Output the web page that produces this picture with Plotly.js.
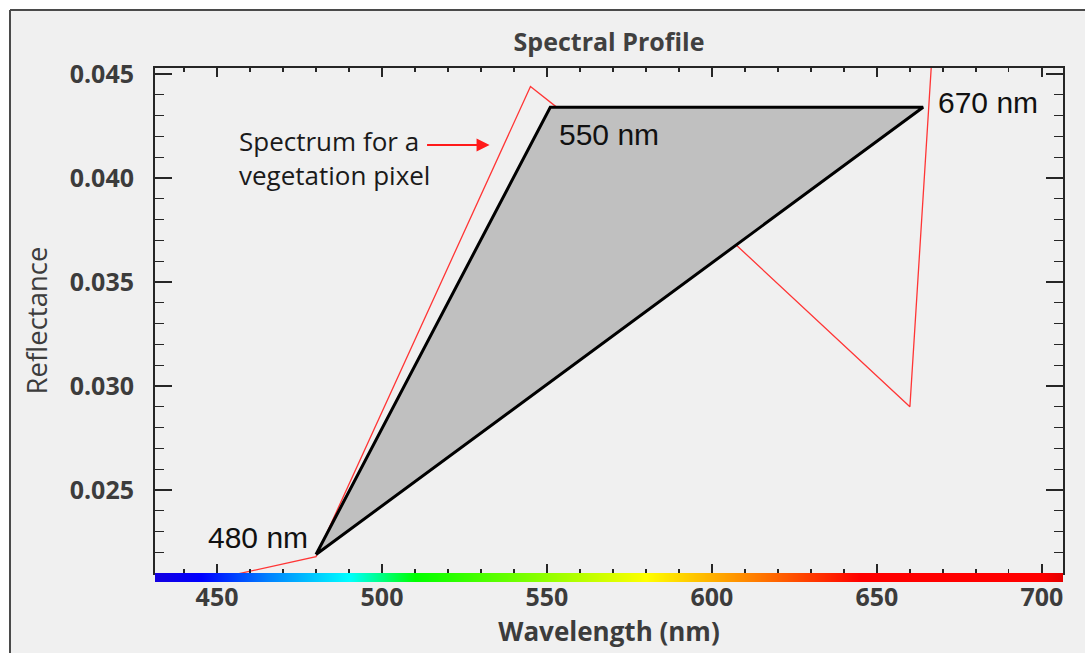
<!DOCTYPE html>
<html>
<head>
<meta charset="utf-8">
<script src="https://cdn.plot.ly/plotly-3.0.1.min.js"></script>
<style>
  html, body { margin: 0; padding: 0; background: #ffffff; }
  #chart { width: 1085px; height: 653px; }
</style>
</head>
<body>
<div id="chart"></div>
<script>
// Red spectrum of a vegetation pixel (wavelength nm, reflectance)
const spectrumWavelength = [443, 480, 545, 553, 570, 660, 700];
const spectrumReflectance = [0.0205, 0.0218, 0.0444, 0.0434, 0.0423, 0.0290, 0.130];

// Triangle vertices (480 nm, 550 nm, 670 nm)
const triangleWavelength = [480, 551, 664];
const triangleReflectance = [0.0219, 0.0434, 0.0434];

// Tick labels
const xTickValues = [450, 500, 550, 600, 650, 700];
const yTickValues = [0.025, 0.030, 0.035, 0.040, 0.045];

// Wavelength colour strip stops
const stripWavelength = [431, 445, 465, 490, 510, 545, 580, 612, 645, 700, 707];
const stripColor = ['#1400e0', '#0000ff', '#0080ff', '#00ffff', '#00ff00', '#80ff00',
                    '#ffff00', '#ff8000', '#ff0000', '#ff0000', '#e00000'];

const axisColor = '#262626';
const tickFont = { family: 'Open Sans', size: 25, color: '#3c3c3c', weight: 700 };

// pixel helpers for the outer frame (paper coords of the plot area)
const L = 155, T = 68, W = 908, H = 514;
const px2paperX = p => (p - L) / W;
const px2paperY = p => (T + H - p) / H;

const traces = [
  {
    type: 'heatmap',
    x: stripWavelength,
    y: [0, 1],
    z: [stripWavelength.map((_, i) => i), stripWavelength.map((_, i) => i)],
    colorscale: stripColor.map((c, i) => [i / (stripColor.length - 1), c]),
    zsmooth: 'best',
    showscale: false,
    hoverinfo: 'skip',
    xaxis: 'x',
    yaxis: 'y2'
  },
  {
    type: 'scatter',
    mode: 'lines',
    x: spectrumWavelength,
    y: spectrumReflectance,
    line: { color: '#ff3535', width: 1.3 },
    hoverinfo: 'skip',
    showlegend: false
  },
  {
    type: 'scatter',
    mode: 'lines',
    x: triangleWavelength.concat([triangleWavelength[0]]),
    y: triangleReflectance.concat([triangleReflectance[0]]),
    fill: 'toself',
    fillcolor: '#c0c0c0',
    line: { color: '#000000', width: 3 },
    hoverinfo: 'skip',
    showlegend: false
  }
];

const layout = {
  width: 1085,
  height: 653,
  margin: { l: L, r: 1085 - L - W, t: T, b: 653 - T - H, pad: 0 },
  paper_bgcolor: '#f0f0f0',
  plot_bgcolor: 'rgba(0,0,0,0)',
  showlegend: false,
  title: {
    text: 'Spectral Profile',
    font: { family: 'Open Sans', size: 25, color: '#404040', weight: 700 },
    x: 0.5, xref: 'paper', xanchor: 'center',
    y: 1 - 42 / 653, yref: 'container', yanchor: 'middle'
  },
  xaxis: {
    range: [431.2, 706.4],
    tickvals: xTickValues,
    ticktext: xTickValues.map(String),
    ticks: 'inside', ticklen: 9, tickwidth: 1.5, tickcolor: axisColor,
    minor: { dtick: 10, tick0: 450, ticks: 'inside', ticklen: 4, tickwidth: 1.2, tickcolor: axisColor },
    showline: true, linecolor: axisColor, linewidth: 2, mirror: 'ticks',
    showgrid: false, zeroline: false,
    tickfont: tickFont,
    ticklabelstandoff: 1,
    anchor: 'y',
    title: {
      text: 'Wavelength (nm)',
      font: { family: 'Open Sans', size: 26, color: '#3c3c3c', weight: 700 },
      standoff: 4
    }
  },
  yaxis: {
    domain: [0.0175, 1],
    range: [0.02101, 0.04529],
    tickvals: yTickValues,
    ticktext: yTickValues.map(v => v.toFixed(3)),
    ticks: 'inside', ticklen: 17, tickwidth: 1.5, tickcolor: axisColor,
    minor: { dtick: 0.001, tick0: 0.025, ticks: 'inside', ticklen: 9, tickwidth: 1.2, tickcolor: axisColor },
    showline: true, linecolor: axisColor, linewidth: 2, mirror: 'ticks',
    showgrid: false, zeroline: false,
    tickfont: tickFont,
    ticklabelstandoff: 14,
    title: {
      text: 'Reflectance',
      font: { family: 'Open Sans', size: 27.5, color: '#3c3c3c' },
      standoff: 14
    }
  },
  yaxis2: {
    domain: [0, 0.0175],
    range: [-0.5, 1.5],
    visible: false,
    fixedrange: true
  },
  shapes: [
    // white margin above and left of the window frame
    { type: 'rect', xref: 'paper', yref: 'paper', layer: 'below',
      x0: px2paperX(-20), x1: px2paperX(1120), y0: px2paperY(10), y1: px2paperY(-20),
      fillcolor: '#ffffff', line: { width: 0 } },
    { type: 'rect', xref: 'paper', yref: 'paper', layer: 'below',
      x0: px2paperX(-20), x1: px2paperX(10), y0: px2paperY(680), y1: px2paperY(-20),
      fillcolor: '#ffffff', line: { width: 0 } },
    // frame lines
    { type: 'line', xref: 'paper', yref: 'paper', layer: 'below',
      x0: px2paperX(10), x1: px2paperX(1120), y0: px2paperY(10), y1: px2paperY(10),
      line: { color: '#4a4a4a', width: 2 } },
    { type: 'line', xref: 'paper', yref: 'paper', layer: 'below',
      x0: px2paperX(10), x1: px2paperX(10), y0: px2paperY(10), y1: px2paperY(680),
      line: { color: '#4a4a4a', width: 2 } }
  ],
  annotations: [
    {
      x: 462.3, y: 0.02274, xref: 'x', yref: 'y', text: '480 nm', showarrow: false,
      font: { family: 'Liberation Sans, Arial', size: 30, color: '#111111' }
    },
    {
      x: 568.9, y: 0.04207, xref: 'x', yref: 'y', text: '550 nm', showarrow: false,
      font: { family: 'Liberation Sans, Arial', size: 30, color: '#111111' }
    },
    {
      x: 683.6, y: 0.04361, xref: 'x', yref: 'y', text: '670 nm', showarrow: false,
      font: { family: 'Liberation Sans, Arial', size: 30, color: '#111111' }
    },
    {
      x: 456.1, y: 0.04096, xref: 'x', yref: 'y', xanchor: 'left', yanchor: 'middle',
      align: 'left', text: 'Spectrum for a<br>vegetation pixel', showarrow: false,
      font: { family: 'Open Sans', size: 26, color: '#1a1a1a' }
    },
    {
      x: 532.6, y: 0.04159, xref: 'x', yref: 'y', text: '', showarrow: true,
      ax: -64, ay: 0, arrowhead: 2, arrowsize: 1.3, arrowwidth: 2, arrowcolor: '#ff1a1a',
      standoff: 0
    }
  ]
};

Plotly.newPlot('chart', traces, layout, { displayModeBar: false, staticPlot: true });
</script>
</body>
</html>
